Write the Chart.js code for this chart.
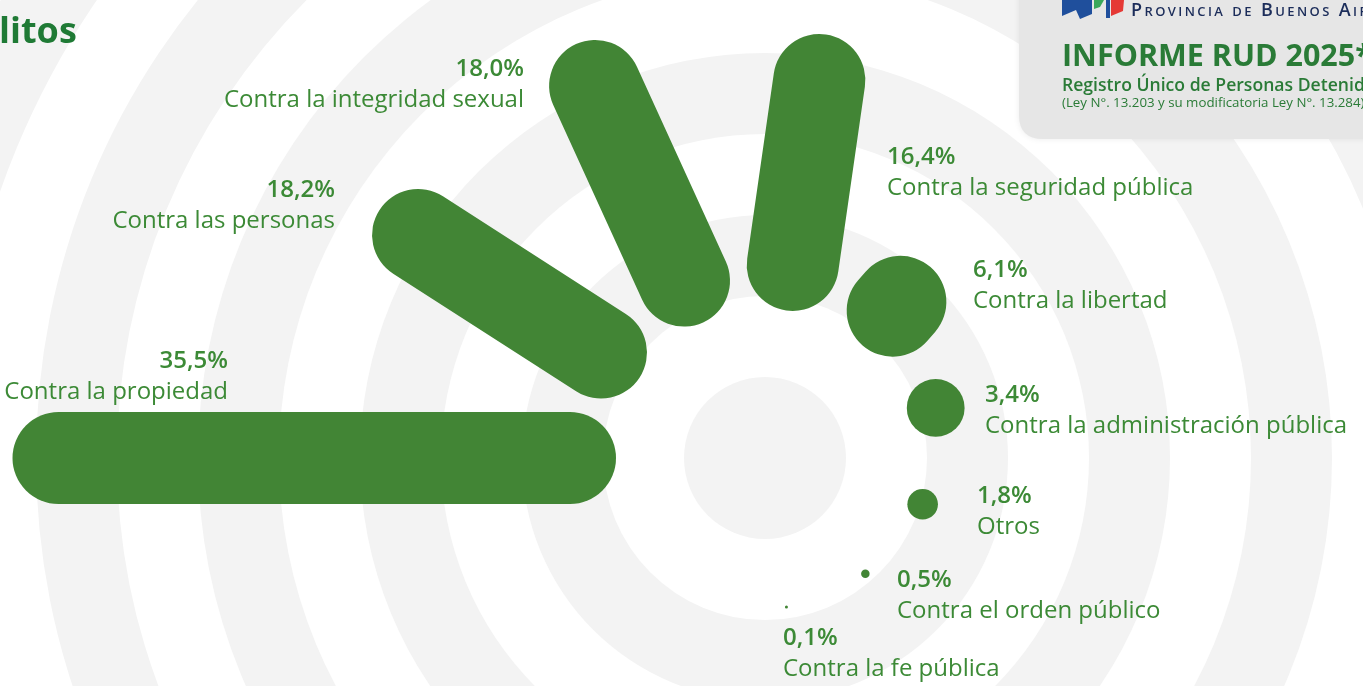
<!DOCTYPE html>
<html>
<head>
<meta charset="utf-8">
<script src="https://cdn.jsdelivr.net/npm/chart.js@4.4.1/dist/chart.umd.min.js"></script>
<style>
html,body{margin:0;padding:0;background:#fff;overflow:hidden}
#wrap{position:relative;width:1363px;height:686px}
canvas{display:block}
</style>
</head>
<body>
<div id="wrap"><canvas id="c" width="1363" height="686"></canvas></div>
<script>
// ---------------- DATA ----------------
const categories = [
  'Contra la propiedad',
  'Contra las personas',
  'Contra la integridad sexual',
  'Contra la seguridad pública',
  'Contra la libertad',
  'Contra la administración pública',
  'Otros',
  'Contra el orden público',
  'Contra la fe pública'
];
const values = [35.5, 18.2, 18.0, 16.4, 6.1, 3.4, 1.8, 0.5, 0.1];
const valueLabels = values.map(v => v.toFixed(1).replace('.', ',') + '%');

// ---------------- LAYOUT / STYLE ----------------
const W = 1363, H = 686;
const CENTER_PX = { x: 765, y: 458 };     // pixel position of the radial origin
const PX_PER_POINT = 17.0;                // pixels per percentage point
const INNER_R_PX = 149;                   // radius where every mark starts
const MAX_THICK_PX = 92;                  // bar thickness
const MIN_THICK_PX = 3;
const START_ANGLE = 180;                  // degrees, first category
const ANGLE_STEP = 360 / 11;              // degrees between categories (clockwise)
const RING_PX = 81;
const GREEN = '#428535';
const TEXT_GREEN = '#3c8a36';
const RING_GRAY = '#f3f3f3';

// label layout: [anchor x, baseline of percentage line, align]
const labelLayout = [
  [228, 368, 'right'],
  [335, 197, 'right'],
  [524, 76, 'right'],
  [887, 164, 'left'],
  [973, 277, 'left'],
  [985, 402, 'left'],
  [977, 503, 'left'],
  [897, 587, 'left'],
  [783, 645, 'left']
];
const LINE_GAP = 30.5;

// axis ranges in percentage-point units, origin at the radial centre
const xMin = -CENTER_PX.x / PX_PER_POINT, xMax = (W - CENTER_PX.x) / PX_PER_POINT;
const yMin = -(H - CENTER_PX.y) / PX_PER_POINT, yMax = CENTER_PX.y / PX_PER_POINT;
const R0 = INNER_R_PX / PX_PER_POINT;

const datasets = values.map((v, i) => {
  const a = (START_ANGLE - i * ANGLE_STEP) * Math.PI / 180;
  const ux = Math.cos(a), uy = Math.sin(a);
  const t = Math.max(MIN_THICK_PX / PX_PER_POINT, Math.min(MAX_THICK_PX / PX_PER_POINT, v));
  const rIn = R0 + t / 2;
  const rOut = R0 + Math.max(v, t) - t / 2;
  if (rOut - rIn < 0.05) {
    const rm = (rIn + rOut) / 2;
    return {
      label: categories[i],
      data: [{ x: ux * rm, y: uy * rm }],
      pointRadius: t * PX_PER_POINT / 2,
      pointBackgroundColor: GREEN,
      pointBorderWidth: 0,
      showLine: false
    };
  }
  return {
    label: categories[i],
    data: [{ x: ux * rIn, y: uy * rIn }, { x: ux * rOut, y: uy * rOut }],
    showLine: true,
    borderColor: GREEN,
    borderWidth: t * PX_PER_POINT,
    borderCapStyle: 'round',
    pointRadius: 0,
    fill: false
  };
});

const ringPlugin = {
  id: 'rings',
  beforeDatasetsDraw(chart) {
    const { ctx, scales: { x, y } } = chart;
    const cx = x.getPixelForValue(0), cy = y.getPixelForValue(0);
    ctx.save();
    ctx.fillStyle = '#ffffff';
    ctx.fillRect(0, 0, W, H);
    for (let i = 12; i >= 0; i--) {
      ctx.beginPath();
      ctx.arc(cx, cy, (i + 1) * RING_PX, 0, Math.PI * 2);
      ctx.fillStyle = (i % 2 === 0) ? RING_GRAY : '#ffffff';
      ctx.fill();
    }
    ctx.restore();
  }
};

const labelPlugin = {
  id: 'labels',
  afterDatasetsDraw(chart) {
    const { ctx } = chart;
    ctx.save();
    ctx.fillStyle = TEXT_GREEN;
    ctx.textBaseline = 'alphabetic';
    categories.forEach((c, i) => {
      const [lx, ly, al] = labelLayout[i];
      ctx.textAlign = al;
      ctx.font = "600 24px 'Open Sans'";
      ctx.fillText(valueLabels[i], lx, ly);
      ctx.font = "400 24px 'Open Sans'";
      ctx.fillText(c, lx, ly + LINE_GAP);
    });
    ctx.restore();
  }
};

function roundRect(ctx, x, y, w, h, r) {
  ctx.beginPath();
  ctx.moveTo(x + r, y);
  ctx.lineTo(x + w - r, y);
  ctx.quadraticCurveTo(x + w, y, x + w, y + r);
  ctx.lineTo(x + w, y + h - r);
  ctx.quadraticCurveTo(x + w, y + h, x + w - r, y + h);
  ctx.lineTo(x + r, y + h);
  ctx.quadraticCurveTo(x, y + h, x, y + h - r);
  ctx.lineTo(x, y + r);
  ctx.quadraticCurveTo(x, y, x + r, y);
  ctx.closePath();
}

const headerPlugin = {
  id: 'header',
  afterDraw(chart) {
    const { ctx } = chart;
    ctx.save();
    // title fragment
    ctx.fillStyle = '#1f7a35';
    ctx.font = "700 36px 'Open Sans'";
    ctx.textAlign = 'left';
    ctx.fillText('litos', -1, 43);
    // info box
    ctx.shadowColor = 'rgba(0,0,0,0.08)';
    ctx.shadowBlur = 6;
    ctx.fillStyle = '#e6e6e6';
    roundRect(ctx, 1019, -30, 400, 169, 24);
    ctx.fill();
    ctx.shadowColor = 'transparent';
    // logo
    ctx.fillStyle = '#1f4f9c';
    ctx.beginPath();
    ctx.moveTo(1062, 0); ctx.lineTo(1092, 0); ctx.lineTo(1092, 14); ctx.lineTo(1080, 19); ctx.lineTo(1076, 10); ctx.lineTo(1062, 16); ctx.closePath(); ctx.fill();
    ctx.beginPath();
    ctx.moveTo(1106, 0); ctx.lineTo(1110, 0); ctx.lineTo(1110, 18); ctx.lineTo(1106, 18); ctx.closePath(); ctx.fill();
    ctx.fillStyle = '#3aa85a';
    ctx.beginPath();
    ctx.moveTo(1094, 0); ctx.lineTo(1104, 0); ctx.lineTo(1100, 7); ctx.lineTo(1094, 9); ctx.closePath(); ctx.fill();
    ctx.fillStyle = '#e53935';
    ctx.beginPath();
    ctx.moveTo(1111, 0); ctx.lineTo(1124, 0); ctx.lineTo(1123, 11); ctx.lineTo(1111, 16); ctx.closePath(); ctx.fill();
    // organisation name
    ctx.fillStyle = '#1c2d5a';
    ctx.font = "small-caps 600 18px 'Open Sans'";
    ctx.letterSpacing = '2.4px';
    ctx.fillText('Provincia de Buenos Aires', 1131, 16);
    ctx.letterSpacing = '0px';
    // report title
    ctx.fillStyle = '#2a7b37';
    ctx.font = "700 30.5px 'Open Sans'";
    ctx.fillText('INFORME RUD 2025*', 1062, 66);
    ctx.font = "600 17.6px 'Open Sans'";
    ctx.fillText('Registro Único de Personas Detenidas', 1062, 91);
    ctx.font = "500 13.3px 'Open Sans'";
    ctx.fillText('(Ley N°. 13.203 y su modificatoria Ley N°. 13.284)', 1062, 107);
    ctx.restore();
  }
};

new Chart(document.getElementById('c'), {
  type: 'scatter',
  data: { datasets },
  options: {
    responsive: false,
    devicePixelRatio: 1,
    animation: false,
    events: [],
    layout: { padding: 0, autoPadding: false },
    plugins: { legend: { display: false }, tooltip: { enabled: false } },
    datasets: { scatter: { clip: false } },
    scales: {
      x: { type: 'linear', min: xMin, max: xMax, display: false },
      y: { type: 'linear', min: yMin, max: yMax, display: false }
    }
  },
  plugins: [ringPlugin, labelPlugin, headerPlugin]
});
</script>
</body>
</html>
